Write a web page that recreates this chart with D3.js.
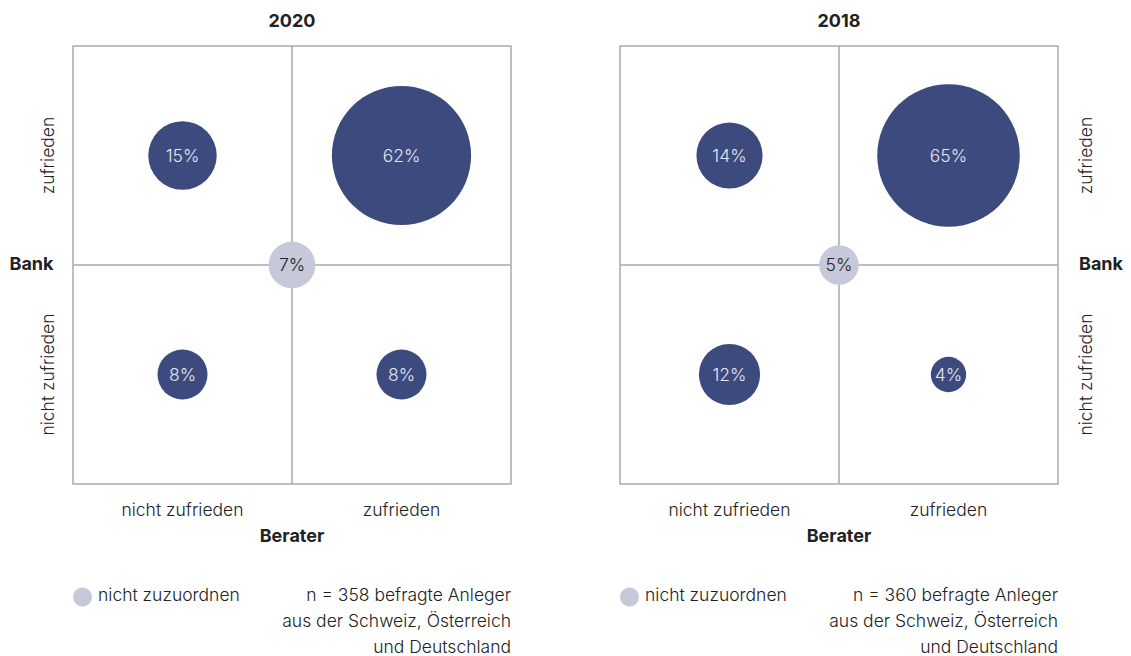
<!DOCTYPE html>
<html>
<head>
<meta charset="utf-8">
<script src="https://cdn.jsdelivr.net/npm/d3@7"></script>
<style>
  body { margin: 0; background: #fff; }
  svg text { font-family: Inter, "Liberation Sans", sans-serif; }
</style>
</head>
<body>
<svg id="chart" width="1131" height="656"></svg>
<script>
// Survey results: satisfaction with the advisor (Berater) vs. the bank (Bank)
const years = ["2020", "2018"];
const beraterLevels = ["nicht zufrieden", "zufrieden"];
const bankLevels = ["zufrieden", "nicht zufrieden"];
// quadrant shares in %, rows follow bankLevels, columns follow beraterLevels
const shares2020 = [[15, 62], [8, 8]];
const shares2018 = [[14, 65], [12, 4]];
const sharesByYear = [shares2020, shares2018];
// respondents that could not be assigned to a quadrant
const unassigned = [7, 5];
const respondents = [358, 360];
const legendLabel = "nicht zuzuordnen";

const navy = "#3c4a7e";
const pale = "#c6c9da";
const gridColor = "#aaaaaa";
const textColor = "#222";
const fsText = 17.5;
const fsBold = 18;

const svg = d3.select("#chart");

const size = 438;
const panelLeft = [73, 620];
const panelTop = 46;

const x = d3.scaleBand().domain(beraterLevels).range([0, size]);
const y = d3.scaleBand().domain(bankLevels).range([0, size]);
const r = d3.scaleSqrt().domain([0, 100]).range([0, 88.4]);

years.forEach((year, i) => {
  const g = svg.append("g").attr("transform", `translate(${panelLeft[i]},${panelTop})`);
  const bankOnLeft = i === 0;

  // frame and quadrant dividers
  g.append("rect")
    .attr("x", 0).attr("y", 0).attr("width", size).attr("height", size)
    .attr("fill", "none").attr("stroke", gridColor).attr("stroke-width", 1.5);
  g.append("line")
    .attr("x1", size / 2).attr("x2", size / 2).attr("y1", 0).attr("y2", size)
    .attr("stroke", gridColor).attr("stroke-width", 1.5);
  g.append("line")
    .attr("x1", 0).attr("x2", size).attr("y1", size / 2).attr("y2", size / 2)
    .attr("stroke", gridColor).attr("stroke-width", 1.5);

  // title
  g.append("text")
    .attr("x", size / 2).attr("y", -19)
    .attr("text-anchor", "middle")
    .attr("font-size", fsBold).attr("font-weight", 700).attr("fill", textColor)
    .text(year);

  // quadrant bubbles
  const cells = [];
  sharesByYear[i].forEach((row, ri) => row.forEach((v, ci) => {
    cells.push({ bank: bankLevels[ri], berater: beraterLevels[ci], value: v });
  }));

  const cell = g.selectAll("g.cell").data(cells).join("g")
    .attr("class", "cell")
    .attr("transform", d => `translate(${x(d.berater) + x.bandwidth() / 2},${y(d.bank) + y.bandwidth() / 2})`);
  cell.append("circle").attr("r", d => r(d.value)).attr("fill", navy);
  cell.append("text")
    .attr("text-anchor", "middle").attr("dy", "0.36em")
    .attr("font-size", fsText).attr("font-weight", 300).attr("fill", "#e4e6f0")
    .text(d => d.value + "%");

  // unassigned share sits on the crossing of the dividers
  const mid = g.append("g").attr("transform", `translate(${size / 2},${size / 2})`);
  mid.append("circle").attr("r", r(unassigned[i])).attr("fill", pale);
  mid.append("text")
    .attr("text-anchor", "middle").attr("dy", "0.36em")
    .attr("font-size", fsText).attr("font-weight", 300).attr("fill", textColor)
    .text(unassigned[i] + "%");

  // Berater axis
  g.selectAll("text.xlab").data(beraterLevels).join("text")
    .attr("class", "xlab")
    .attr("x", d => x(d) + x.bandwidth() / 2).attr("y", size + 32)
    .attr("text-anchor", "middle")
    .attr("font-size", fsText).attr("font-weight", 300).attr("fill", textColor)
    .text(d => d);
  g.append("text")
    .attr("x", size / 2).attr("y", size + 58)
    .attr("text-anchor", "middle")
    .attr("font-size", fsBold).attr("font-weight", 700).attr("fill", textColor)
    .text("Berater");

  // Bank axis
  const yLabX = bankOnLeft ? -19.5 : size + 34;
  g.selectAll("text.ylab").data(bankLevels).join("text")
    .attr("class", "ylab")
    .attr("transform", d => `translate(${yLabX},${y(d) + y.bandwidth() / 2}) rotate(-90)`)
    .attr("text-anchor", "middle")
    .attr("font-size", fsText).attr("font-weight", 300).attr("fill", textColor)
    .text(d => d);
  g.append("text")
    .attr("x", bankOnLeft ? -19.5 : size + 21)
    .attr("y", size / 2 + 5)
    .attr("text-anchor", bankOnLeft ? "end" : "start")
    .attr("font-size", fsBold).attr("font-weight", 700).attr("fill", textColor)
    .text("Bank");

  // legend and sample note
  const leg = g.append("g").attr("transform", `translate(0,${size + 107})`);
  leg.append("circle").attr("cx", 9.5).attr("cy", 6).attr("r", 9.5).attr("fill", pale);
  leg.append("text")
    .attr("x", 25).attr("y", 10)
    .attr("font-size", fsText).attr("font-weight", 300).attr("fill", textColor)
    .text(legendLabel);

  const note = [
    `n = ${respondents[i]} befragte Anleger`,
    "aus der Schweiz, Österreich",
    "und Deutschland"
  ];
  leg.selectAll("text.note").data(note).join("text")
    .attr("class", "note")
    .attr("x", size).attr("y", (d, k) => 10 + k * 26)
    .attr("text-anchor", "end")
    .attr("font-size", fsText).attr("font-weight", 300).attr("fill", textColor)
    .text(d => d);
});
</script>
</body>
</html>
